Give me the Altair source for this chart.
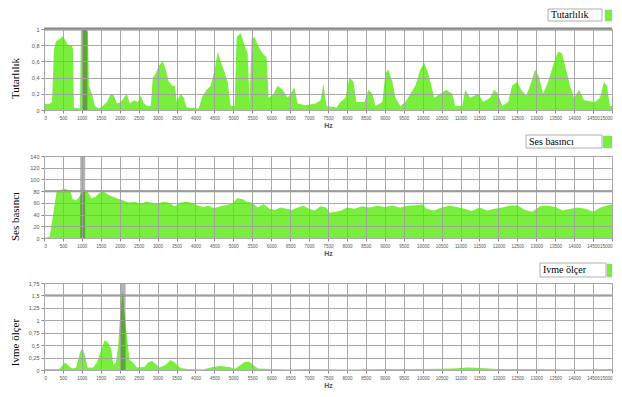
import altair as alt
import pandas as pd

# ---------------- data ----------------
tut_hz = [0, 130, 210, 264, 316, 395, 500, 580, 633, 738, 765, 790, 949, 975, 1054, 1160, 1186, 1265, 1344, 1450,
          1555, 1660, 1766, 1845, 1924, 2030, 2188, 2267, 2372, 2478, 2557, 2636, 2741, 2820, 2873, 2952, 3031, 3137,
          3216, 3295, 3400, 3453, 3506, 3611, 3690, 3770, 4086, 4191, 4297, 4402, 4507, 4587, 4666, 4745, 4850, 4929,
          5035, 5088, 5193, 5298, 5377, 5430, 5483, 5562, 5667, 5773, 5878, 5931, 6063, 6168, 6300, 6432, 6511, 6616,
          6695, 6906, 7170, 7302, 7381, 7460, 7723, 7829, 7961, 8066, 8172, 8251, 8462, 8567, 8672, 8752, 8936, 9015,
          9094, 9200, 9279, 9411, 9542, 9806, 9938, 10043, 10149, 10228, 10307, 10465, 10623, 10781, 10860, 11045,
          11124, 11256, 11467, 11598, 11783, 11888, 11994, 12099, 12257, 12363, 12495, 12600, 12732, 12837, 12969,
          13075, 13180, 13312, 13444, 13575, 13681, 13786, 13892, 13997, 14129, 14261, 14551, 14683, 14788, 14867,
          14946, 15000]
tut_val = [0.08, 0.07, 0.1, 0.75, 0.85, 0.87, 0.91, 0.85, 0.8, 0.8, 0.75, 0.03, 0.02, 0.98, 1.0, 0.97, 0.3, 0.2, 0.05,
           0.02, 0.05, 0.1, 0.2, 0.18, 0.08, 0.1, 0.2, 0.08, 0.12, 0.1, 0.18, 0.08, 0.05, 0.05, 0.4, 0.45, 0.55, 0.6,
           0.5, 0.35, 0.3, 0.3, 0.1, 0.2, 0.15, 0.03, 0.02, 0.18, 0.25, 0.3, 0.5, 0.72, 0.6, 0.5, 0.35, 0.05, 0.05,
           0.9, 0.95, 0.8, 0.7, 0.1, 0.88, 0.9, 0.78, 0.7, 0.65, 0.15, 0.2, 0.3, 0.25, 0.15, 0.2, 0.28, 0.08, 0.06,
           0.08, 0.12, 0.32, 0.05, 0.03, 0.1, 0.15, 0.4, 0.35, 0.1, 0.1, 0.25, 0.2, 0.05, 0.1, 0.45, 0.5, 0.35, 0.15,
           0.05, 0.1, 0.3, 0.5, 0.58, 0.45, 0.3, 0.15, 0.2, 0.25, 0.2, 0.05, 0.05, 0.25, 0.15, 0.2, 0.1, 0.15, 0.25,
           0.2, 0.05, 0.1, 0.3, 0.35, 0.25, 0.18, 0.3, 0.5, 0.4, 0.2, 0.35, 0.55, 0.72, 0.7, 0.5, 0.3, 0.15, 0.25,
           0.12, 0.1, 0.15, 0.35, 0.3, 0.05, 0.05]

ses_hz = [0, 150, 330, 430, 560, 700, 760, 850, 950, 1050, 1150, 1250, 1350, 1450, 1550, 1650, 1750, 1850, 1950,
          2100, 2250, 2400, 2550, 2700, 2850, 3000, 3150, 3300, 3450, 3600, 3750, 3900, 4050, 4200, 4350, 4500,
          4650, 4800, 5000, 5100, 5250, 5350, 5500, 5650, 5800, 5950, 6100, 6250, 6400, 6550, 6700, 6850, 7000,
          7150, 7300, 7450, 7550, 7700, 7850, 8000, 8200, 8400, 8600, 8800, 9000, 9200, 9400, 9600, 9800, 10000,
          10100, 10300, 10500, 10700, 10900, 11100, 11300, 11500, 11700, 11900, 12100, 12300, 12500, 12700, 12900,
          13100, 13300, 13500, 13700, 13900, 14100, 14300, 14500, 14700, 14900, 15000]
ses_val = [0, 2, 78, 82, 84, 80, 66, 64, 72, 82, 80, 68, 70, 76, 80, 76, 72, 70, 67, 64, 60, 62, 58, 62, 60, 58, 62,
           60, 54, 60, 62, 60, 56, 53, 55, 51, 54, 56, 60, 68, 66, 62, 60, 52, 58, 50, 48, 52, 50, 48, 52, 55, 50,
           47, 54, 52, 43, 45, 47, 52, 50, 54, 52, 55, 53, 55, 52, 55, 56, 57, 50, 47, 52, 55, 53, 50, 46, 52, 47,
           50, 52, 55, 56, 48, 45, 54, 55, 53, 47, 50, 52, 50, 45, 52, 56, 57]

ivme_hz = [0, 400, 500, 560, 650, 750, 850, 950, 1010, 1080, 1150, 1300, 1400, 1500, 1600, 1700, 1780, 1830, 1900,
           1960, 2000, 2080, 2130, 2200, 2260, 2350, 2450, 2650, 2750, 2850, 2950, 3050, 3200, 3350, 3450, 3600,
           3800, 4200, 4400, 4650, 4900, 5050, 5150, 5300, 5400, 5500, 5650, 6000, 6500, 7000, 8000, 9000, 10000,
           10800, 11200, 11500, 12000, 13000, 14000, 15000]
ivme_val = [0.02, 0.02, 0.1, 0.15, 0.08, 0.03, 0.05, 0.35, 0.45, 0.3, 0.05, 0.05, 0.15, 0.38, 0.6, 0.55, 0.4, 0.1,
            0.15, 0.5, 1.0, 1.58, 1.1, 0.6, 0.2, 0.15, 0.05, 0.06, 0.15, 0.18, 0.12, 0.05, 0.1, 0.2, 0.15, 0.04,
            0.02, 0.01, 0.05, 0.08, 0.06, 0.02, 0.08, 0.16, 0.17, 0.12, 0.03, 0.02, 0.01, 0.02, 0.01, 0.02, 0.02,
            0.03, 0.05, 0.04, 0.02, 0.02, 0.01, 0.02]

x_ticks = list(range(0, 15001, 500))
tut_ticks = [0, 0.2, 0.4, 0.6, 0.8, 1]
ses_ticks = [0, 20, 40, 60, 80, 100, 120, 140]
ivme_ticks = [0, 0.25, 0.5, 0.75, 1, 1.25, 1.5, 1.75]

# threshold lines and cursor markers
tut_thresh, ses_thresh, ivme_thresh = 1.0, 80, 1.5
tut_marker, ses_marker, ivme_marker = 1080, 1022, 2088

GREEN = "#7aee3c"
W = 568


def panel(hz, vals, ticks, ymax, title, legend, thresh, marker, h, title_x, title_y,
          box, swatch, thresh_w):
    df = pd.DataFrame({"hz": hz, "val": vals})
    xax = alt.Axis(values=x_ticks, format="d", labelFontSize=4.5, labelColor="#555", labelOverlap=False,
                   labelPadding=2, tickSize=3, tickColor="#888", grid=True,
                   gridColor="#a0a0a0", gridOpacity=0.9, domainColor="#aaa", title="Hz", titleFontSize=7,
                   titleColor="#555", titleFontWeight="bold", titlePadding=2, zindex=1)
    yax = alt.Axis(values=ticks, labelExpr="replace(format(datum.value, ''), '.', ',')", labelFontSize=5.5,
                   labelColor="#555", labelPadding=2, tickSize=3, tickColor="#888", grid=True,
                   gridColor="#a0a0a0", gridOpacity=0.9, domainColor="#aaa", title=title,
                   titleFont="Liberation Serif", titleFontSize=11, titleFontWeight="normal",
                   titleColor="#000", titleX=title_x, titleY=title_y, zindex=1)
    x = alt.X("hz:Q", scale=alt.Scale(domain=[0, 15000], nice=False), axis=xax)
    y = alt.Y("val:Q", scale=alt.Scale(domain=[0, ymax], nice=False), axis=yax)
    area = alt.Chart(df).mark_area(color=GREEN, opacity=1, interpolate="linear").encode(x=x, y=y)
    thr = alt.Chart(pd.DataFrame({"val": [thresh]})).mark_rule(color="#888", strokeWidth=thresh_w).encode(y=y)
    mk = alt.Chart(pd.DataFrame({"hz": [marker]})).mark_rule(color="#222", strokeOpacity=0.35,
                                                              strokeWidth=5).encode(x=x)
    ldf = pd.DataFrame({"t": [legend]})
    bx = alt.Chart(ldf).mark_rect(fill="white", stroke="#999", strokeWidth=0.8).encode(
        x=alt.value(box[0]), x2=alt.value(box[1]), y=alt.value(box[2]), y2=alt.value(box[3]))
    tx = alt.Chart(ldf).mark_text(align="left", baseline="middle", font="Liberation Serif", fontSize=10,
                                  color="#000").encode(
        x=alt.value(box[0] + 3), y=alt.value((box[2] + box[3]) / 2), text="t:N")
    sw = alt.Chart(ldf).mark_rect(fill=GREEN, stroke="#bbb", strokeWidth=0.5).encode(
        x=alt.value(swatch[0]), x2=alt.value(swatch[1]), y=alt.value(box[2] + 1), y2=alt.value(box[3]))
    return alt.layer(area, mk, thr, bx, tx, sw).properties(width=W, height=h)


p1 = panel(tut_hz, tut_val, tut_ticks, 1.0, "Tutarlılık", "Tutarlılık", tut_thresh, tut_marker, 81,
           -24, 49, (504, 558, -20, -8), (561, 568), 3)
p2 = panel(ses_hz, ses_val, ses_ticks, 140, "Ses basıncı", "Ses basıncı", ses_thresh, ses_marker, 82,
           -24, 60, (482, 558, -21, -8), (559, 568), 2)
p3 = panel(ivme_hz, ivme_val, ivme_ticks, 1.75, "Ivme ölçer", "Ivme ölçer", ivme_thresh, ivme_marker, 87,
           -24, 59, (496, 562, -20, -6), (563, 568), 2)

chart = alt.vconcat(p1, p2, p3, spacing=5).properties(
    padding={"left": 0, "top": 0, "right": 0, "bottom": 0}
).configure_view(stroke="#aaa", strokeWidth=1).configure(background="white")

chart.save("out.html", embed_options={"renderer": "svg", "actions": False})
